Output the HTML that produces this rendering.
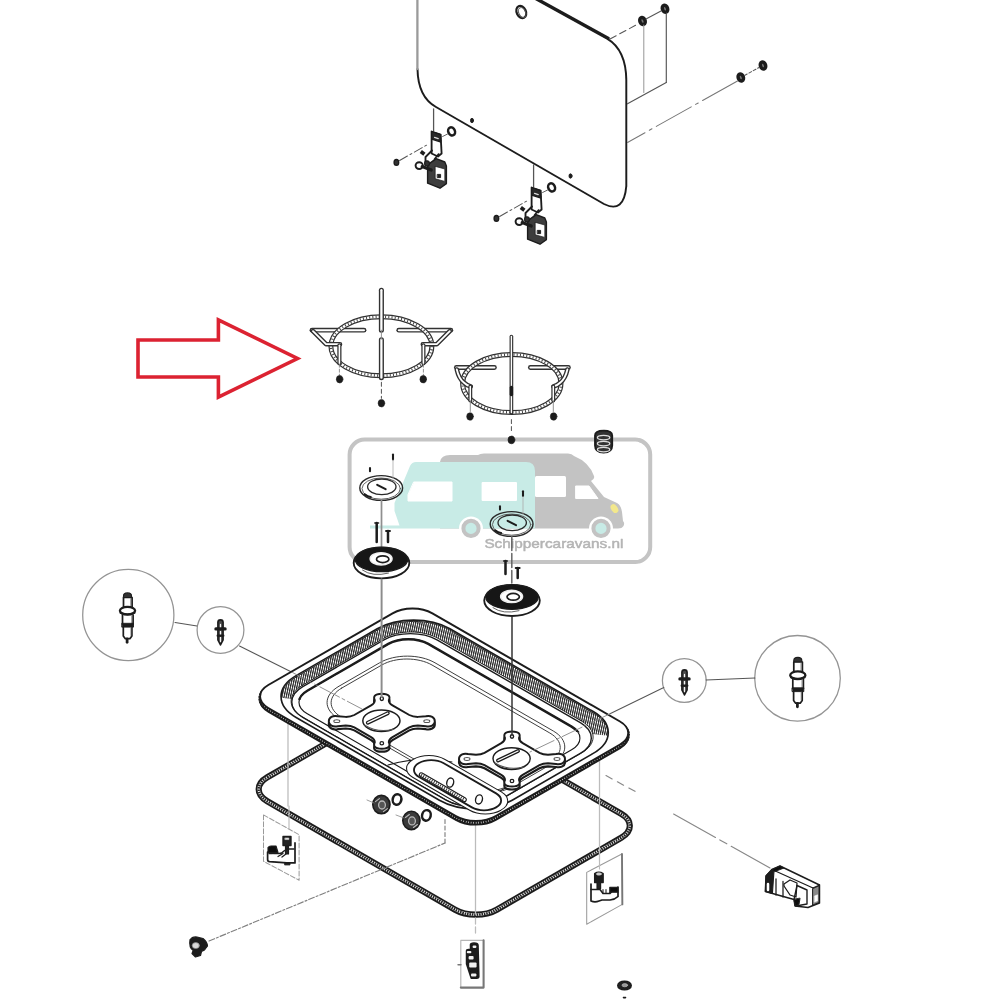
<!DOCTYPE html>
<html><head><meta charset="utf-8"><title>Exploded view</title>
<style>
html,body{margin:0;padding:0;background:#fff;}
body{width:1000px;height:1000px;overflow:hidden;font-family:"Liberation Sans",sans-serif;}
svg{display:block;}
</style></head><body>
<svg width="1000" height="1000" viewBox="0 0 1000 1000" stroke-linecap="round" stroke-linejoin="round">
<defs><filter id="soft" x="-2%" y="-2%" width="104%" height="104%"><feGaussianBlur stdDeviation="0.45"/></filter></defs>
<rect width="1000" height="1000" fill="#fff"/>
<g filter="url(#soft)">
<g id="wm">
<rect x="349.6" y="439.6" width="300.6" height="122.4" rx="15" ry="15" fill="none" stroke="#c4c4c4" stroke-width="4"/>
<path d="M440 528 L440 462 Q441 455 450 455 L478 455 Q480 453.5 484 453.5 L568 453.5 Q572 453.5 574 456 Q589 462 594 476 Q595 479 591 481 L604 497 L617 503 Q621 505 622 512 L623 521 Q625 523 623.5 526 Q622 528.5 618 528.5 L440 528.5 Z" fill="#c3c3c3" stroke="none"/>
<rect x="535" y="476" width="31" height="21" rx="1.5" fill="#fff"/>
<path d="M576 486 L589 486 L598 498.5 L576 498.5 Z" fill="#fff" stroke="#fff" stroke-width="1" />
<ellipse cx="614.4" cy="508.6" rx="3.2" ry="4.8" transform="rotate(-35 614.4 508.6)" fill="#f3e88c"/>
<path d="M416 462 L526 462 Q535 462 535 471 L535 528.4 L370 528.4 L370 525.6 L399.5 525.6 L394.5 511 L394.5 503 L410 466 Q412 462 416 462 Z" fill="#c8ebe6" stroke="none"/>
<path d="M414 482 L452 482 L452 501 L408 501 L408 495 Z" fill="#fff" stroke="#fff" stroke-width="1"/>
<rect x="481.6" y="482" width="35.4" height="19" rx="1" fill="#fff"/>
<circle cx="471" cy="528.4" r="12" fill="#fff"/>
<circle cx="471" cy="528.4" r="7.6" fill="#c8ebe6" stroke="#c3c3c3" stroke-width="4"/>
<circle cx="601" cy="528.4" r="12" fill="#fff"/>
<circle cx="601" cy="528.4" r="7.6" fill="#c8ebe6" stroke="#c3c3c3" stroke-width="4"/>
<text x="484.4" y="548" font-family="Liberation Sans, sans-serif" font-size="13.6" fill="#b4b4b4" stroke="#b4b4b4" stroke-width="0.5" textLength="139" lengthAdjust="spacingAndGlyphs">Schippercaravans.nl</text>
</g>
<path d="M138 340 L218.4 340 L218.4 320 L297.5 358.5 L218.4 397 L218.4 377 L138 377 Z" fill="none" stroke="#dc2430" stroke-width="3.6" stroke-linejoin="miter" stroke-linecap="butt"/>
<path d="M417.5 69 Q418 97 436 107 L604 204 Q624 214 626.3 186 L626.3 80 Q626 50 607.5 38.8 L535 -1" fill="none" stroke="#1c1c1c" stroke-width="1.95" />
<line x1="417.4" y1="-2" x2="417.4" y2="69" stroke="#9a9a9a" stroke-width="2.3" />
<path d="M608.6 38 L536.4 -1.6" fill="none" stroke="#1c1c1c" stroke-width="2.53" />
<ellipse cx="521.3" cy="12" rx="4.6" ry="6.4" fill="none" stroke="#1c1c1c" stroke-width="2.18" transform="rotate(-25 521.3 12)"/>
<ellipse cx="522.2" cy="12.6" rx="3.4" ry="5.2" fill="none" stroke="#555" stroke-width="1.03" transform="rotate(-25 522.2 12.6)"/>
<ellipse cx="472" cy="120.5" rx="1.5" ry="2.2" fill="#1c1c1c" stroke="#1c1c1c" stroke-width="0.92" />
<ellipse cx="570.5" cy="176" rx="1.5" ry="2.2" fill="#1c1c1c" stroke="#1c1c1c" stroke-width="0.92" />
<ellipse cx="642.5" cy="21" rx="2.6" ry="3.6" fill="#777" stroke="#1c1c1c" stroke-width="3.45" transform="rotate(-20 642.5 21)"/>
<ellipse cx="665" cy="8.8" rx="2.6" ry="3.6" fill="#777" stroke="#1c1c1c" stroke-width="3.45" transform="rotate(-20 665 8.8)"/>
<ellipse cx="740.8" cy="77.5" rx="2.6" ry="3.6" fill="#777" stroke="#1c1c1c" stroke-width="3.45" transform="rotate(-20 740.8 77.5)"/>
<ellipse cx="763" cy="65.5" rx="2.6" ry="3.6" fill="#777" stroke="#1c1c1c" stroke-width="3.45" transform="rotate(-20 763 65.5)"/>
<line x1="610" y1="39" x2="638" y2="24" stroke="#555" stroke-width="1.03" stroke-dasharray="7 4"/>
<line x1="646" y1="19" x2="661" y2="11" stroke="#555" stroke-width="1.03" />
<line x1="643.8" y1="25" x2="643.8" y2="92.5" stroke="#999" stroke-width="1.03" />
<line x1="666.3" y1="13" x2="666.3" y2="82.5" stroke="#555" stroke-width="1.15" />
<line x1="666.3" y1="82.5" x2="627.5" y2="103.8" stroke="#555" stroke-width="1.15" />
<line x1="737.5" y1="81" x2="627.5" y2="142.5" stroke="#777" stroke-width="1.03" stroke-dasharray="40 5 3 5"/>
<line x1="744.5" y1="75.5" x2="759" y2="67.5" stroke="#555" stroke-width="1.03" stroke-dasharray="3 2"/>
<ellipse cx="128.3" cy="615" rx="45.6" ry="45.6" fill="none" stroke="#949494" stroke-width="1.26" />
<ellipse cx="220.5" cy="630" rx="23.4" ry="23.4" fill="none" stroke="#949494" stroke-width="1.26" />
<line x1="175" y1="622.5" x2="197" y2="626" stroke="#555" stroke-width="1.03" />
<line x1="239.5" y1="646" x2="292.5" y2="672.5" stroke="#555" stroke-width="1.03" />
<ellipse cx="684.3" cy="680.5" rx="21.9" ry="21.9" fill="none" stroke="#949494" stroke-width="1.26" />
<ellipse cx="797.5" cy="678.3" rx="42.8" ry="42.8" fill="none" stroke="#949494" stroke-width="1.26" />
<line x1="706" y1="680" x2="755" y2="678" stroke="#555" stroke-width="1.03" />
<line x1="663.8" y1="687.5" x2="610" y2="713.8" stroke="#555" stroke-width="1.03" />
<path d="M123.5 596.1 q0 -3.2 4 -3.2 q4 0 4 3.2 v1.6 h-8 Z" fill="#333" stroke="#1c1c1c" stroke-width="1.15" />
<path d="M123.5 597.5 v11.5 M132.1 597.5 v11.5" fill="none" stroke="#1c1c1c" stroke-width="1.72" />
<path d="M130.7 598.5 v10" fill="none" stroke="#777" stroke-width="0.8" />
<ellipse cx="127.5" cy="610.7" rx="7.6" ry="3.8" fill="#fff" stroke="#1c1c1c" stroke-width="2.3" />
<path d="M120.5 613 q7 3 14 0" fill="none" stroke="#1c1c1c" stroke-width="1.61" />
<path d="M122.5 615 v9 M133.1 615 v9" fill="none" stroke="#1c1c1c" stroke-width="1.72" />
<path d="M131.7 615.5 v8" fill="none" stroke="#777" stroke-width="0.8" />
<path d="M122.1 623.3 h11.4 v3.8 h-11.4 Z" fill="#1c1c1c" stroke="#1c1c1c" stroke-width="0.92" />
<path d="M123.3 627.1 v9 l2 2.6 h4.6 l2 -2.6 v-9" fill="none" stroke="#1c1c1c" stroke-width="1.72" />
<path d="M130.9 627.5 v8" fill="none" stroke="#777" stroke-width="0.8" />
<path d="M127.1 638.9 v3.4" fill="none" stroke="#1c1c1c" stroke-width="2.76" />
<path d="M217.9 622.5 q0 -2.6 2.6 -2.6 q2.6 0 2.6 2.6 v17.5 l-2.6 5 l-2.6 -5 Z" fill="#4a4a4a" stroke="#1c1c1c" stroke-width="1.61" />
<path d="M220.5 624.5 v3.4 M220.5 631.5 v3 M220.5 637.5 v4" fill="none" stroke="#f4f4f4" stroke-width="1.26" />
<path d="M215.9 628.9 h9.2" fill="none" stroke="#1c1c1c" stroke-width="3.22" />
<path d="M217.7 635.7 h5.6" fill="none" stroke="#1c1c1c" stroke-width="2.3" />
<path d="M793.8 660.6 q0 -3.2 4 -3.2 q4 0 4 3.2 v1.6 h-8 Z" fill="#333" stroke="#1c1c1c" stroke-width="1.15" />
<path d="M793.8 662 v11.5 M802.4 662 v11.5" fill="none" stroke="#1c1c1c" stroke-width="1.72" />
<path d="M801 663 v10" fill="none" stroke="#777" stroke-width="0.8" />
<ellipse cx="797.8" cy="675.2" rx="7.6" ry="3.8" fill="#fff" stroke="#1c1c1c" stroke-width="2.3" />
<path d="M790.8 677.5 q7 3 14 0" fill="none" stroke="#1c1c1c" stroke-width="1.61" />
<path d="M792.8 679.5 v9 M803.4 679.5 v9" fill="none" stroke="#1c1c1c" stroke-width="1.72" />
<path d="M802 680 v8" fill="none" stroke="#777" stroke-width="0.8" />
<path d="M792.4 687.8 h11.4 v3.8 h-11.4 Z" fill="#1c1c1c" stroke="#1c1c1c" stroke-width="0.92" />
<path d="M793.6 691.6 v9 l2 2.6 h4.6 l2 -2.6 v-9" fill="none" stroke="#1c1c1c" stroke-width="1.72" />
<path d="M801.2 692 v8" fill="none" stroke="#777" stroke-width="0.8" />
<path d="M797.4 703.4 v3.4" fill="none" stroke="#1c1c1c" stroke-width="2.76" />
<path d="M681.9 672.5 q0 -2.6 2.6 -2.6 q2.6 0 2.6 2.6 v17.5 l-2.6 5 l-2.6 -5 Z" fill="#4a4a4a" stroke="#1c1c1c" stroke-width="1.61" />
<path d="M684.5 674.5 v3.4 M684.5 681.5 v3 M684.5 687.5 v4" fill="none" stroke="#f4f4f4" stroke-width="1.26" />
<path d="M679.9 678.9 h9.2" fill="none" stroke="#1c1c1c" stroke-width="3.22" />
<path d="M681.7 685.7 h5.6" fill="none" stroke="#1c1c1c" stroke-width="2.3" />
<line x1="433.6" y1="109" x2="433.6" y2="131" stroke="#555" stroke-width="1.26" />
<path d="M431.6 131.5 l9 3 l1 19 l-3.6 3 l-6.4 -3 Z" fill="#fff" stroke="#1c1c1c" stroke-width="1.84" />
<path d="M431.6 131.5 l9 3 l0.4 7.6 l-9.4 -3 Z" fill="#2a2a2a" stroke="#1c1c1c" stroke-width="1.15" />
<path d="M434.6 137.4 l3.6 1.2" fill="none" stroke="#ddd" stroke-width="1.38" />
<path d="M432 150.5 l-6.5 6.5 v5.5 l5 2.5" fill="none" stroke="#1c1c1c" stroke-width="1.84" />
<path d="M438.6 154 l-4 5 v6" fill="none" stroke="#1c1c1c" stroke-width="1.61" />
<path d="M429.2 163.6 l7 -5 l8.6 3.4 l1.6 4 v17.6 l-6.4 4.6 l-12.4 -5 v-17 Z" fill="#3c3c3c" stroke="#1c1c1c" stroke-width="1.38" />
<path d="M435.4 166.4 l9.4 2.6 v12.4 l-9.4 -2.6 Z" fill="#fff" stroke="#1c1c1c" stroke-width="0.69" />
<path d="M437.6 174.4 h3 v3.2 h-3 Z" fill="#222" stroke="#1c1c1c" stroke-width="0.92" />
<ellipse cx="419.2" cy="165.6" rx="3.6" ry="3.4" fill="#fff" stroke="#1c1c1c" stroke-width="1.95" />
<path d="M422.2 166.6 l9 3.4" fill="none" stroke="#1c1c1c" stroke-width="3.22" />
<ellipse cx="427" cy="163.4" rx="2.4" ry="2.6" fill="#333" stroke="#1c1c1c" stroke-width="1.15" />
<path d="M420.8 151.6 l3.6 2.6" fill="none" stroke="#1c1c1c" stroke-width="3.68" stroke-linecap="butt"/>
<ellipse cx="451.6" cy="131.4" rx="3.3" ry="4.2" fill="none" stroke="#1c1c1c" stroke-width="2.53" transform="rotate(-25 451.6 131.4)"/>
<ellipse cx="396.4" cy="162.4" rx="2.3" ry="2.9" fill="#333" stroke="#1c1c1c" stroke-width="1.38" />
<line x1="399.6" y1="160.5" x2="428.6" y2="144" stroke="#555" stroke-width="1.03" stroke-dasharray="9 3 2 3"/>
<line x1="442.6" y1="136.5" x2="447.6" y2="134" stroke="#555" stroke-width="0.92" />
<line x1="533.6" y1="165" x2="533.6" y2="187" stroke="#555" stroke-width="1.26" />
<path d="M531.6 187.5 l9 3 l1 19 l-3.6 3 l-6.4 -3 Z" fill="#fff" stroke="#1c1c1c" stroke-width="1.84" />
<path d="M531.6 187.5 l9 3 l0.4 7.6 l-9.4 -3 Z" fill="#2a2a2a" stroke="#1c1c1c" stroke-width="1.15" />
<path d="M534.6 193.4 l3.6 1.2" fill="none" stroke="#ddd" stroke-width="1.38" />
<path d="M532 206.5 l-6.5 6.5 v5.5 l5 2.5" fill="none" stroke="#1c1c1c" stroke-width="1.84" />
<path d="M538.6 210 l-4 5 v6" fill="none" stroke="#1c1c1c" stroke-width="1.61" />
<path d="M529.2 219.6 l7 -5 l8.6 3.4 l1.6 4 v17.6 l-6.4 4.6 l-12.4 -5 v-17 Z" fill="#3c3c3c" stroke="#1c1c1c" stroke-width="1.38" />
<path d="M535.4 222.4 l9.4 2.6 v12.4 l-9.4 -2.6 Z" fill="#fff" stroke="#1c1c1c" stroke-width="0.69" />
<path d="M537.6 230.4 h3 v3.2 h-3 Z" fill="#222" stroke="#1c1c1c" stroke-width="0.92" />
<ellipse cx="519.2" cy="221.6" rx="3.6" ry="3.4" fill="#fff" stroke="#1c1c1c" stroke-width="1.95" />
<path d="M522.2 222.6 l9 3.4" fill="none" stroke="#1c1c1c" stroke-width="3.22" />
<ellipse cx="527" cy="219.4" rx="2.4" ry="2.6" fill="#333" stroke="#1c1c1c" stroke-width="1.15" />
<path d="M520.8 207.6 l3.6 2.6" fill="none" stroke="#1c1c1c" stroke-width="3.68" stroke-linecap="butt"/>
<ellipse cx="551.6" cy="187.4" rx="3.3" ry="4.2" fill="none" stroke="#1c1c1c" stroke-width="2.53" transform="rotate(-25 551.6 187.4)"/>
<ellipse cx="496.4" cy="218.4" rx="2.3" ry="2.9" fill="#333" stroke="#1c1c1c" stroke-width="1.38" />
<line x1="499.6" y1="216.5" x2="528.6" y2="200" stroke="#555" stroke-width="1.03" stroke-dasharray="9 3 2 3"/>
<line x1="542.6" y1="192.5" x2="547.6" y2="190" stroke="#555" stroke-width="0.92" />
<path d="M364 330.2 h-52" fill="none" stroke="#303030" stroke-width="4.83" />
<path d="M364 330.2 h-52" fill="none" stroke="#fff" stroke-width="2.07" />
<path d="M398.8 330.2 h52" fill="none" stroke="#303030" stroke-width="4.83" />
<path d="M398.8 330.2 h52" fill="none" stroke="#fff" stroke-width="2.07" />
<ellipse cx="381.4" cy="346.2" rx="50.5" ry="29.5" fill="none" stroke="#303030" stroke-width="4.94" />
<ellipse cx="381.4" cy="346.2" rx="50.5" ry="29.5" fill="none" stroke="#fff" stroke-width="2.53" />
<ellipse cx="381.4" cy="346.2" rx="50.5" ry="29.5" fill="none" stroke="#444" stroke-width="2.53" stroke-dasharray="1 2.2" stroke-linecap="butt"/>
<path d="M313 331.2 l13 13 h14" fill="none" stroke="#303030" stroke-width="4.6" />
<path d="M313 331.2 l13 13 h14" fill="none" stroke="#fff" stroke-width="1.84" />
<path d="M449.8 331.2 l-13 13 h-14" fill="none" stroke="#303030" stroke-width="4.6" />
<path d="M449.8 331.2 l-13 13 h-14" fill="none" stroke="#fff" stroke-width="1.84" />
<path d="M339.4 345.2 v18" fill="none" stroke="#303030" stroke-width="4.14" />
<path d="M339.4 345.2 v18" fill="none" stroke="#fff" stroke-width="1.61" />
<path d="M423.4 345.2 v18" fill="none" stroke="#303030" stroke-width="4.14" />
<path d="M423.4 345.2 v18" fill="none" stroke="#fff" stroke-width="1.61" />
<path d="M381.4 290.2 v40" fill="none" stroke="#303030" stroke-width="5.06" />
<path d="M381.4 290.2 v40" fill="none" stroke="#fff" stroke-width="2.3" />
<path d="M381.4 339.7 v38" fill="none" stroke="#303030" stroke-width="5.06" />
<path d="M381.4 339.7 v38" fill="none" stroke="#fff" stroke-width="2.3" />
<line x1="381.4" y1="330.2" x2="381.4" y2="339.2" stroke="#888" stroke-width="0.92" />
<line x1="339.4" y1="364.2" x2="339.4" y2="375.2" stroke="#888" stroke-width="0.92" stroke-dasharray="3 2"/>
<line x1="423.4" y1="364.2" x2="423.4" y2="375.2" stroke="#888" stroke-width="0.92" stroke-dasharray="3 2"/>
<line x1="381.4" y1="382.2" x2="381.4" y2="398.2" stroke="#555" stroke-width="1.03" stroke-dasharray="4 3"/>
<ellipse cx="339.6" cy="379.2" rx="3.3" ry="3.7" fill="#1c1c1c" stroke="#1c1c1c" stroke-width="0.57" />
<ellipse cx="423.2" cy="379.2" rx="3.3" ry="3.7" fill="#1c1c1c" stroke="#1c1c1c" stroke-width="0.57" />
<ellipse cx="381.4" cy="403.2" rx="3.3" ry="3.7" fill="#1c1c1c" stroke="#1c1c1c" stroke-width="0.57" />
<path d="M494.4 367.5 h-38" fill="none" stroke="#303030" stroke-width="4.83" />
<path d="M494.4 367.5 h-38" fill="none" stroke="#fff" stroke-width="2.07" />
<path d="M530.4 367.5 h38" fill="none" stroke="#303030" stroke-width="4.83" />
<path d="M530.4 367.5 h38" fill="none" stroke="#fff" stroke-width="2.07" />
<ellipse cx="511.8" cy="383.5" rx="49.2" ry="29" fill="none" stroke="#303030" stroke-width="4.94" />
<ellipse cx="511.8" cy="383.5" rx="49.2" ry="29" fill="none" stroke="#fff" stroke-width="2.53" />
<ellipse cx="511.8" cy="383.5" rx="49.2" ry="29" fill="none" stroke="#444" stroke-width="2.53" stroke-dasharray="1 2.2" stroke-linecap="butt"/>
<path d="M456.8 369.5 q2 9 7 13 q3 3 7 4" fill="none" stroke="#303030" stroke-width="4.6" />
<path d="M456.8 369.5 q2 9 7 13 q3 3 7 4" fill="none" stroke="#fff" stroke-width="1.84" />
<path d="M567.4 369.5 q-2 9 -7 13 q-3 3 -7 4" fill="none" stroke="#303030" stroke-width="4.6" />
<path d="M567.4 369.5 q-2 9 -7 13 q-3 3 -7 4" fill="none" stroke="#fff" stroke-width="1.84" />
<path d="M470.3 386.5 v14" fill="none" stroke="#303030" stroke-width="3.91" />
<path d="M470.3 386.5 v14" fill="none" stroke="#fff" stroke-width="1.49" />
<path d="M553.3 386.5 v14" fill="none" stroke="#303030" stroke-width="3.91" />
<path d="M553.3 386.5 v14" fill="none" stroke="#fff" stroke-width="1.49" />
<path d="M511.4 336.5 v76" fill="none" stroke="#303030" stroke-width="3.68" />
<path d="M511.4 336.5 v76" fill="none" stroke="#fff" stroke-width="1.38" />
<path d="M511.4 387.5 v7" fill="none" stroke="#1c1c1c" stroke-width="3.45" />
<line x1="470.3" y1="400.5" x2="470.3" y2="411.5" stroke="#888" stroke-width="0.92" />
<line x1="553.3" y1="400.5" x2="553.3" y2="411.5" stroke="#888" stroke-width="0.92" />
<line x1="511.4" y1="419.5" x2="511.4" y2="433.5" stroke="#555" stroke-width="1.03" stroke-dasharray="4 3"/>
<ellipse cx="470" cy="416.5" rx="3.3" ry="3.7" fill="#1c1c1c" stroke="#1c1c1c" stroke-width="0.57" />
<ellipse cx="553.6" cy="416.5" rx="3.3" ry="3.7" fill="#1c1c1c" stroke="#1c1c1c" stroke-width="0.57" />
<ellipse cx="511.4" cy="439.9" rx="3.4" ry="3.8" fill="#1c1c1c" stroke="#1c1c1c" stroke-width="0.69" />
<path d="M595 435.6 q0 -5 8.6 -5 q8.6 0 8.6 5 v10 q0 7 -8.6 7 q-8.6 0 -8.6 -7 Z" fill="#333" stroke="#1c1c1c" stroke-width="1.84" />
<ellipse cx="603.6" cy="437.6" rx="6.2" ry="2.2" fill="#333" stroke="#ddd" stroke-width="1.26" />
<ellipse cx="603.6" cy="443.6" rx="6.2" ry="2.2" fill="#333" stroke="#ddd" stroke-width="1.26" />
<ellipse cx="603.6" cy="449.6" rx="6.2" ry="2.2" fill="#333" stroke="#ddd" stroke-width="1.26" />
<ellipse cx="381.2" cy="488" rx="21.4" ry="12.4" fill="none" stroke="#2a2a2a" stroke-width="1.44" />
<ellipse cx="381.2" cy="488.6" rx="19.2" ry="10.6" fill="none" stroke="#555" stroke-width="0.92" />
<ellipse cx="381.8" cy="486.8" rx="14.2" ry="7.8" fill="none" stroke="#2a2a2a" stroke-width="1.32" />
<line x1="377.2" y1="484.8" x2="385.6" y2="489.2" stroke="#1c1c1c" stroke-width="2.07" />
<path d="M364.7 494.4 q3 2.4 6 2.6" fill="none" stroke="#1c1c1c" stroke-width="2.07" />
<line x1="370" y1="468" x2="370" y2="471.2" stroke="#1c1c1c" stroke-width="2.07" />
<line x1="393" y1="454.6" x2="393" y2="459.4" stroke="#1c1c1c" stroke-width="2.07" />
<line x1="393" y1="460" x2="393" y2="479" stroke="#aaa" stroke-width="0.8" />
<ellipse cx="511.6" cy="524" rx="21.4" ry="12.4" fill="none" stroke="#2a2a2a" stroke-width="1.44" />
<ellipse cx="511.6" cy="524.6" rx="19.2" ry="10.6" fill="none" stroke="#555" stroke-width="0.92" />
<ellipse cx="512.2" cy="522.8" rx="14.2" ry="7.8" fill="none" stroke="#2a2a2a" stroke-width="1.32" />
<line x1="507.6" y1="520.8" x2="516" y2="525.2" stroke="#1c1c1c" stroke-width="2.07" />
<path d="M495.1 530.4 q3 2.4 6 2.6" fill="none" stroke="#1c1c1c" stroke-width="2.07" />
<line x1="500" y1="506.4" x2="500" y2="509.6" stroke="#1c1c1c" stroke-width="2.07" />
<line x1="523" y1="491.2" x2="523" y2="496" stroke="#1c1c1c" stroke-width="2.07" />
<line x1="523" y1="496.6" x2="523" y2="515" stroke="#aaa" stroke-width="0.8" />
<line x1="381.5" y1="500.5" x2="381.5" y2="546" stroke="#8f8f8f" stroke-width="1.72" />
<line x1="511.8" y1="536.5" x2="511.8" y2="583" stroke="#666" stroke-width="1.49" stroke-dasharray="14 3"/>
<line x1="376.7" y1="523" x2="376.7" y2="542" stroke="#1c1c1c" stroke-width="2.53" />
<line x1="374.9" y1="523" x2="378.5" y2="523" stroke="#1c1c1c" stroke-width="1.61" />
<line x1="388" y1="531" x2="388" y2="542" stroke="#1c1c1c" stroke-width="2.53" />
<line x1="386" y1="531" x2="390" y2="531" stroke="#1c1c1c" stroke-width="1.84" />
<line x1="505.5" y1="561" x2="505.5" y2="574" stroke="#1c1c1c" stroke-width="2.53" />
<line x1="503.7" y1="561" x2="507.3" y2="561" stroke="#1c1c1c" stroke-width="1.61" />
<line x1="517.7" y1="568" x2="517.7" y2="578" stroke="#1c1c1c" stroke-width="2.53" />
<line x1="515.7" y1="568" x2="519.7" y2="568" stroke="#1c1c1c" stroke-width="1.84" />
<ellipse cx="381.5" cy="563" rx="27.8" ry="15.4" fill="#fff" stroke="#1c1c1c" stroke-width="1.84" />
<ellipse cx="381.5" cy="559.4" rx="26.2" ry="12.2" fill="#161616" stroke="#1c1c1c" stroke-width="1.38" />
<ellipse cx="381.1" cy="558.8" rx="11" ry="6.2" fill="#fff" stroke="#eee" stroke-width="1.38" />
<ellipse cx="382.7" cy="559.2" rx="6.2" ry="3.4" fill="#fff" stroke="#1c1c1c" stroke-width="1.72" />
<path d="M362.5 570.1 q10 7 26 3" fill="none" stroke="#555" stroke-width="0.92" />
<ellipse cx="512" cy="600.6" rx="27.8" ry="15.4" fill="#fff" stroke="#1c1c1c" stroke-width="1.84" />
<ellipse cx="512" cy="597" rx="26.2" ry="12.2" fill="#161616" stroke="#1c1c1c" stroke-width="1.38" />
<ellipse cx="511.6" cy="596.4" rx="11" ry="6.2" fill="#fff" stroke="#eee" stroke-width="1.38" />
<ellipse cx="513.2" cy="596.8" rx="6.2" ry="3.4" fill="#fff" stroke="#1c1c1c" stroke-width="1.72" />
<path d="M493 607.7 q10 7 26 3" fill="none" stroke="#555" stroke-width="0.92" />
<path d="M267.3 777.3 L391.8 705.4 C403.3 698.8 421.9 698.8 433.4 705.4 L621.2 813.8 C632.7 820.4 632.7 831.2 621.2 837.8 L496.7 909.7 C485.2 916.3 466.6 916.3 455.1 909.7 L267.3 801.3 C255.8 794.7 255.8 783.9 267.3 777.3 Z" fill="none" stroke="#1c1c1c" stroke-width="6.21" />
<path d="M267.3 777.3 L391.8 705.4 C403.3 698.8 421.9 698.8 433.4 705.4 L621.2 813.8 C632.7 820.4 632.7 831.2 621.2 837.8 L496.7 909.7 C485.2 916.3 466.6 916.3 455.1 909.7 L267.3 801.3 C255.8 794.7 255.8 783.9 267.3 777.3 Z" fill="none" stroke="#fff" stroke-width="2.53" />
<path d="M267.3 777.3 L391.8 705.4 C403.3 698.8 421.9 698.8 433.4 705.4 L621.2 813.8 C632.7 820.4 632.7 831.2 621.2 837.8 L496.7 909.7 C485.2 916.3 466.6 916.3 455.1 909.7 L267.3 801.3 C255.8 794.7 255.8 783.9 267.3 777.3 Z" fill="none" stroke="#222" stroke-width="2.53" stroke-dasharray="1.6 0.8" stroke-linecap="butt"/>
<line x1="288" y1="722" x2="288" y2="806" stroke="#bcbcbc" stroke-width="1.26" />
<line x1="599.5" y1="752" x2="599.5" y2="861" stroke="#bcbcbc" stroke-width="1.26" />
<line x1="475.5" y1="820" x2="475.5" y2="914" stroke="#bcbcbc" stroke-width="1.26" />
<line x1="475.5" y1="918" x2="475.5" y2="936" stroke="#bcbcbc" stroke-width="1.26" stroke-dasharray="6 3"/>
<path d="M268.3 688.6 L392.6 616.9 C403.6 610.5 421.4 610.5 432.4 616.9 L620 725.1 C631 731.5 631 741.7 620 748.1 L495.7 819.8 C484.7 826.2 466.9 826.2 455.9 819.8 L268.3 711.6 C257.3 705.2 257.3 695 268.3 688.6 Z" fill="#fff" stroke="#1c1c1c" stroke-width="1.95" />
<path d="M268.3 686.9 L392.6 615.2 C403.6 608.8 421.4 608.8 432.4 615.2 L620 723.4 C631 729.8 631 740 620 746.4 L495.7 818.1 C484.7 824.5 466.9 824.5 455.9 818.1 L268.3 709.9 C257.3 703.5 257.3 693.3 268.3 686.9 Z" fill="none" stroke="#1c1c1c" stroke-width="3.45" stroke-dasharray="1.9 0.6" stroke-linecap="butt"/>
<path d="M268.3 685 L392.6 613.3 C403.6 606.9 421.4 606.9 432.4 613.3 L620 721.5 C631 727.9 631 738.1 620 744.5 L495.7 816.2 C484.7 822.6 466.9 822.6 455.9 816.2 L268.3 708 C257.3 701.6 257.3 691.4 268.3 685 Z" fill="#fff" stroke="#1c1c1c" stroke-width="1.95" />
<defs><pattern id="hatch" width="2.1" height="6" patternUnits="userSpaceOnUse" patternTransform="rotate(12)"><rect x="0" y="0" width="1.25" height="6" fill="#262626"/></pattern></defs>
<clipPath id="hobB"><path d="M296.1 675.6 L377.2 628.8 C397.3 617.2 429.8 617.2 449.9 628.8 L593.2 711.5 C613.3 723.1 613.3 741.8 593.2 753.4 L512.2 800.2 C492.1 811.8 459.5 811.8 439.4 800.2 L296.1 717.5 C276 705.9 276 687.2 296.1 675.6 Z"/></clipPath>
<clipPath id="farside"><path d="M230 560 L700 560 L700 747 L606 735.5 L279 697.5 L230 692 Z"/></clipPath>
<g clip-path="url(#hobB)">
<g clip-path="url(#farside)"><path d="M296.1 676.9 L377.2 630.1 C397.3 618.5 429.8 618.5 449.9 630.1 L593.2 712.8 C613.3 724.4 613.3 743.1 593.2 754.7 L512.2 801.5 C492.1 813.1 459.5 813.1 439.4 801.5 L296.1 718.8 C276 707.2 276 688.5 296.1 676.9 Z M302.4 685.3 L383.5 638.5 C398.6 629.8 423.2 629.8 438.4 638.5 L581.7 721.2 C596.9 730 596.9 744.1 581.7 752.9 L500.7 799.7 C485.5 808.4 460.9 808.4 445.7 799.7 L302.4 717 C287.3 708.2 287.3 694.1 302.4 685.3 Z" fill="url(#hatch)" fill-rule="evenodd" stroke="none"/></g>
<path d="M296.1 676.9 L377.2 630.1 C397.3 618.5 429.8 618.5 449.9 630.1 L593.2 712.8 C613.3 724.4 613.3 743.1 593.2 754.7 L512.2 801.5 C492.1 813.1 459.5 813.1 439.4 801.5 L296.1 718.8 C276 707.2 276 688.5 296.1 676.9 Z" fill="none" stroke="#1c1c1c" stroke-width="0.92" />
<path d="M302.4 685.3 L383.5 638.5 C398.6 629.8 423.2 629.8 438.4 638.5 L581.7 721.2 C596.9 730 596.9 744.1 581.7 752.9 L500.7 799.7 C485.5 808.4 460.9 808.4 445.7 799.7 L302.4 717 C287.3 708.2 287.3 694.1 302.4 685.3 Z" fill="none" stroke="#1c1c1c" stroke-width="0.92" />
<path d="M302.8 686.7 L383.9 639.9 C398.5 631.5 422.3 631.5 437 639.9 L580.3 722.6 C595 731.1 595 744.8 580.3 753.3 L499.3 800.1 C484.6 808.5 460.8 808.5 446.1 800.1 L302.8 717.4 C288.1 708.9 288.1 695.2 302.8 686.7 Z" fill="none" stroke="#1c1c1c" stroke-width="1.38" />
<path d="M307.3 690.7 L388.3 643.9 C399.4 637.6 417.3 637.6 428.3 643.9 L571.6 726.6 C582.7 733 582.7 743.3 571.6 749.7 L490.6 796.5 C479.6 802.8 461.6 802.8 450.6 796.5 L307.3 713.8 C296.2 707.4 296.2 697.1 307.3 690.7 Z" fill="none" stroke="#1c1c1c" stroke-width="1.15" />
<g clip-path="url(#farside)">
<path d="M307.3 690.7 L388.3 643.9 C399.4 637.6 417.3 637.6 428.3 643.9 L571.6 726.6 C582.7 733 582.7 743.3 571.6 749.7 L490.6 796.5 C479.6 802.8 461.6 802.8 450.6 796.5 L307.3 713.8 C296.2 707.4 296.2 697.1 307.3 690.7 Z" fill="none" stroke="#1c1c1c" stroke-width="2.42" />
</g>
<path d="M338.5 686.5 L379.6 662.8 C394.9 653.9 419.7 653.9 435 662.8 L553.3 731 C568.6 739.8 568.6 754.2 553.3 763 L512.2 786.7 C496.9 795.5 472.1 795.6 456.7 786.7 L338.5 718.5 C323.2 709.7 323.2 695.3 338.5 686.5 Z" fill="none" stroke="#3a3a3a" stroke-width="0.98" />
<path d="M341.5 688.2 L381.8 665 C395.6 657 418.1 657 432 665 L549.8 733 C563.7 741 563.7 754 549.8 762 L509.6 785.2 C495.7 793.2 473.2 793.2 459.3 785.2 L341.5 717.2 C327.6 709.2 327.6 696.3 341.5 688.2 Z" fill="none" stroke="#3a3a3a" stroke-width="0.98" />
</g>
<path d="M296.1 675.6 L377.2 628.8 C397.3 617.2 429.8 617.2 449.9 628.8 L593.2 711.5 C613.3 723.1 613.3 741.8 593.2 753.4 L512.2 800.2 C492.1 811.8 459.5 811.8 439.4 800.2 L296.1 717.5 C276 705.9 276 687.2 296.1 675.6 Z" fill="none" stroke="#1c1c1c" stroke-width="1.61" />
<path d="M388 765 Q420 756 452 762" fill="none" stroke="#1c1c1c" stroke-width="1.03" />
<path d="M413 759.5 L413.4 759.2 C422 754.2 436 754.2 444.6 759.2 L501.3 791.9 C509.9 796.9 509.9 805 501.3 809.9 L500.9 810.2 C492.3 815.2 478.3 815.2 469.7 810.2 L413 777.5 C404.4 772.5 404.4 764.4 413 759.5 Z" fill="#fff" stroke="#1c1c1c" stroke-width="1.03" />
<path d="M419 763 L419 763 C425.7 759.1 436.6 759.1 443.3 763 L496.1 793.4 C502.8 797.3 502.8 803.6 496.1 807.4 L496.1 807.4 C489.4 811.3 478.6 811.3 471.9 807.4 L419 777 C412.3 773.1 412.3 766.8 419 763 Z" fill="none" stroke="#1c1c1c" stroke-width="1.84" />
<path d="M421.2 774.7 L464.5 799.7" fill="none" stroke="#1c1c1c" stroke-width="4.83" />
<path d="M421.2 774.7 L464.5 799.7" fill="none" stroke="#fff" stroke-width="2.53" />
<path d="M421.2 774.7 L464.5 799.7" fill="none" stroke="#333" stroke-width="2.53" stroke-dasharray="1 1.4" stroke-linecap="butt"/>
<ellipse cx="450.2" cy="782.6" rx="3.4" ry="4.6" fill="none" stroke="#1c1c1c" stroke-width="1.38" transform="rotate(15 450.2 782.6)"/>
<ellipse cx="479" cy="799.4" rx="3.4" ry="4.6" fill="none" stroke="#1c1c1c" stroke-width="1.38" transform="rotate(15 479 799.4)"/>
<g transform="translate(381.8 724.2)">
<path d="M -10.7,-15.9 Q -7,-18 -7,-21 C -8.5,-24 -8,-27.5 0,-27.5 C 8,-27.5 8.5,-24 7,-21 Q 7,-18 10.7,-15.9 L 27.5,-6.2 Q 31,-4.3 36,-4.3 L 44,-5 C 49,-6 53,-4 53,0 C 53,4 49,6 44,5 L 36,4.3 Q 31,4.3 27.5,6.2 L 10.7,15.9 Q 7,18 7,21 C 8.5,24 8,27.5 0,27.5 C -8,27.5 -8.5,24 -7,21 Q -7,18 -10.7,15.9 L -27.5,6.2 Q -31,4.3 -36,4.3 L -44,5 C -49,6 -53,4 -53,0 C -53,-4 -49,-6 -44,-5 L -36,-4.3 Q -31,-4.3 -27.5,-6.2 Z" fill="#fff" stroke="#1c1c1c" stroke-width="2.18" />
</g>
<g transform="translate(381.8 721.2)">
<path d="M -10.7,-15.9 Q -7,-18 -7,-21 C -8.5,-24 -8,-27.5 0,-27.5 C 8,-27.5 8.5,-24 7,-21 Q 7,-18 10.7,-15.9 L 27.5,-6.2 Q 31,-4.3 36,-4.3 L 44,-5 C 49,-6 53,-4 53,0 C 53,4 49,6 44,5 L 36,4.3 Q 31,4.3 27.5,6.2 L 10.7,15.9 Q 7,18 7,21 C 8.5,24 8,27.5 0,27.5 C -8,27.5 -8.5,24 -7,21 Q -7,18 -10.7,15.9 L -27.5,6.2 Q -31,4.3 -36,4.3 L -44,5 C -49,6 -53,4 -53,0 C -53,-4 -49,-6 -44,-5 L -36,-4.3 Q -31,-4.3 -27.5,-6.2 Z" fill="#fff" stroke="#1c1c1c" stroke-width="1.95" />
<ellipse cx="-0.4" cy="-0.4" rx="18.6" ry="10.8" fill="none" stroke="#1c1c1c" stroke-width="1.49" />
<path d="M -17,4 Q -4,12 12,8" fill="none" stroke="#555" stroke-width="1.03" />
<path d="M -14,1.5 L 6,-8" fill="none" stroke="#1c1c1c" stroke-width="3.91" />
<path d="M -14,1.5 L 6,-8" fill="none" stroke="#fff" stroke-width="1.38" />
<ellipse cx="0" cy="-22.5" rx="1.6" ry="1.8" fill="none" stroke="#1c1c1c" stroke-width="1.38" />
<ellipse cx="0" cy="22" rx="1.8" ry="1.6" fill="none" stroke="#1c1c1c" stroke-width="1.26" />
<ellipse cx="-45" cy="0" rx="3" ry="1.4" fill="none" stroke="#555" stroke-width="1.03" />
<ellipse cx="45" cy="0" rx="3" ry="1.4" fill="none" stroke="#555" stroke-width="1.03" />
</g>
<g transform="translate(512 762)">
<path d="M -10.7,-15.9 Q -7,-18 -7,-21 C -8.5,-24 -8,-27.5 0,-27.5 C 8,-27.5 8.5,-24 7,-21 Q 7,-18 10.7,-15.9 L 27.5,-6.2 Q 31,-4.3 36,-4.3 L 44,-5 C 49,-6 53,-4 53,0 C 53,4 49,6 44,5 L 36,4.3 Q 31,4.3 27.5,6.2 L 10.7,15.9 Q 7,18 7,21 C 8.5,24 8,27.5 0,27.5 C -8,27.5 -8.5,24 -7,21 Q -7,18 -10.7,15.9 L -27.5,6.2 Q -31,4.3 -36,4.3 L -44,5 C -49,6 -53,4 -53,0 C -53,-4 -49,-6 -44,-5 L -36,-4.3 Q -31,-4.3 -27.5,-6.2 Z" fill="#fff" stroke="#1c1c1c" stroke-width="2.18" />
</g>
<g transform="translate(512 759)">
<path d="M -10.7,-15.9 Q -7,-18 -7,-21 C -8.5,-24 -8,-27.5 0,-27.5 C 8,-27.5 8.5,-24 7,-21 Q 7,-18 10.7,-15.9 L 27.5,-6.2 Q 31,-4.3 36,-4.3 L 44,-5 C 49,-6 53,-4 53,0 C 53,4 49,6 44,5 L 36,4.3 Q 31,4.3 27.5,6.2 L 10.7,15.9 Q 7,18 7,21 C 8.5,24 8,27.5 0,27.5 C -8,27.5 -8.5,24 -7,21 Q -7,18 -10.7,15.9 L -27.5,6.2 Q -31,4.3 -36,4.3 L -44,5 C -49,6 -53,4 -53,0 C -53,-4 -49,-6 -44,-5 L -36,-4.3 Q -31,-4.3 -27.5,-6.2 Z" fill="#fff" stroke="#1c1c1c" stroke-width="1.95" />
<ellipse cx="-0.4" cy="-0.4" rx="18.6" ry="10.8" fill="none" stroke="#1c1c1c" stroke-width="1.49" />
<path d="M -17,4 Q -4,12 12,8" fill="none" stroke="#555" stroke-width="1.03" />
<path d="M -14,1.5 L 6,-8" fill="none" stroke="#1c1c1c" stroke-width="3.91" />
<path d="M -14,1.5 L 6,-8" fill="none" stroke="#fff" stroke-width="1.38" />
<ellipse cx="0" cy="-22.5" rx="1.6" ry="1.8" fill="none" stroke="#1c1c1c" stroke-width="1.38" />
<ellipse cx="0" cy="22" rx="1.8" ry="1.6" fill="none" stroke="#1c1c1c" stroke-width="1.26" />
<ellipse cx="-45" cy="0" rx="3" ry="1.4" fill="none" stroke="#555" stroke-width="1.03" />
<ellipse cx="45" cy="0" rx="3" ry="1.4" fill="none" stroke="#555" stroke-width="1.03" />
</g>
<line x1="292.5" y1="672.5" x2="362" y2="709" stroke="#888" stroke-width="0.92" stroke-dasharray="22 3 3 3"/>
<line x1="610" y1="713.8" x2="530" y2="752" stroke="#888" stroke-width="0.92" stroke-dasharray="22 3 3 3"/>
<line x1="381.6" y1="579.5" x2="381.6" y2="697" stroke="#8c8c8c" stroke-width="1.95" />
<line x1="512" y1="617" x2="512" y2="735" stroke="#333" stroke-width="1.49" />
<ellipse cx="381.4" cy="804.6" rx="8.6" ry="9.2" fill="#3a3a3a" stroke="#1c1c1c" stroke-width="1.61" />
<ellipse cx="382" cy="805" rx="3.4" ry="4" fill="#555" stroke="#bbb" stroke-width="1.26" />
<path d="M375.4 801.6 l4 -3 M387.4 808.6 l-4 3" fill="none" stroke="#bbb" stroke-width="1.15" />
<ellipse cx="411.4" cy="820.5" rx="8.6" ry="9.2" fill="#3a3a3a" stroke="#1c1c1c" stroke-width="1.61" />
<ellipse cx="412" cy="820.9" rx="3.4" ry="4" fill="#555" stroke="#bbb" stroke-width="1.26" />
<path d="M405.4 817.5 l4 -3 M417.4 824.5 l-4 3" fill="none" stroke="#bbb" stroke-width="1.15" />
<ellipse cx="397" cy="799.5" rx="4.3" ry="5.3" fill="none" stroke="#1c1c1c" stroke-width="2.53" transform="rotate(15 397 799.5)"/>
<ellipse cx="426.4" cy="815.4" rx="4.3" ry="5.3" fill="none" stroke="#1c1c1c" stroke-width="2.53" transform="rotate(15 426.4 815.4)"/>
<line x1="367" y1="800" x2="374" y2="803" stroke="#888" stroke-width="0.8" />
<line x1="396" y1="815" x2="404" y2="818" stroke="#888" stroke-width="0.8" />
<path d="M263.5 814.9 L299.1 834.7 L299.1 880.2 L263.5 861.3 Z" fill="none" stroke="#9a9a9a" stroke-width="1.03" stroke-dasharray="5 2"/>
<line x1="289" y1="806" x2="289" y2="829" stroke="#bcbcbc" stroke-width="1.15" />
<path d="M283 836.5 h8 v9 h-8 Z" fill="#222" stroke="#1c1c1c" stroke-width="1.38" />
<path d="M285.2 838 h3.6 v1.6 h-3.6 Z" fill="#ddd" stroke="#ddd" stroke-width="0.57" />
<path d="M285.5 846 h3 v8 h-3 Z" fill="#222" stroke="#1c1c1c" stroke-width="1.15" />
<path d="M268 847.5 q1 -1.5 3 -1.5 h5 l2 6.5 h-10 Z" fill="#111" stroke="#1c1c1c" stroke-width="1.15" />
<path d="M267.6 852 v7.5 q0 2 2 2.2 l17 1.2 h8.4 v-20" fill="none" stroke="#1c1c1c" stroke-width="1.72" />
<path d="M269 853.5 h10 q3 0 5 -2.5 l3 -2 h7" fill="none" stroke="#1c1c1c" stroke-width="1.38" />
<path d="M278 856.5 l5 -3 M282 857 l4 -3" fill="none" stroke="#1c1c1c" stroke-width="1.26" />
<ellipse cx="273" cy="857.2" rx="3.2" ry="2" fill="#fff" stroke="#fff" stroke-width="0.92" />
<path d="M285 862.5 h5 v2.4 h-5 Z" fill="#1c1c1c" stroke="#1c1c1c" stroke-width="0.92" />
<path d="M586.7 872.4 L621.8 854 L622.3 904.4 L586.7 924.2 Z" fill="none" stroke="#9a9a9a" stroke-width="1.03" />
<line x1="622" y1="854" x2="622.4" y2="904.4" stroke="#777" stroke-width="1.84" />
<line x1="599.5" y1="861" x2="599.5" y2="869" stroke="#bcbcbc" stroke-width="1.15" />
<path d="M594.6 873.5 q4.2 -2.6 8.6 0 v9 h-8.6 Z" fill="#1a1a1a" stroke="#1c1c1c" stroke-width="1.26" />
<ellipse cx="598.9" cy="874" rx="2.6" ry="1.2" fill="#ccc" stroke="#ccc" stroke-width="0.57" />
<path d="M597 882.5 h3.6 v6 h-3.6 Z" fill="#222" stroke="#1c1c1c" stroke-width="1.15" />
<path d="M591 884 v17 q4 1.6 8 0 l3 -1 h8 q5 -0.5 8 -3.5 v-9.5" fill="none" stroke="#1c1c1c" stroke-width="1.72" />
<path d="M591 889.5 h9 l3 4 h7 l3 -4" fill="none" stroke="#1c1c1c" stroke-width="1.49" />
<path d="M609.8 887.2 h8 v5 h-6 l-2 1 Z" fill="#111" stroke="#1c1c1c" stroke-width="1.15" />
<path d="M603 889.5 v4 M606 889.5 v4" fill="none" stroke="#1c1c1c" stroke-width="1.03" />
<path d="M460.8 987.6 V940.4 H483.6" fill="none" stroke="#b5b5b5" stroke-width="1.15" />
<path d="M483.6 940.4 V987.6 H460.8" fill="none" stroke="#777" stroke-width="2.07" />
<line x1="458" y1="964.8" x2="461" y2="964.8" stroke="#777" stroke-width="1.38" />
<path d="M470.5 945 q0 -2 3.5 -2 q4 0 4 2.5 l0.8 31 q0 1.6 -2 1.6 h-5.6 l-4.6 -14 v-13 q0 -1.6 2 -1.6 h2 Z" fill="#1a1a1a" stroke="#1c1c1c" stroke-width="1.61" />
<rect x="472.6" y="945.6" width="3.8" height="2.4" rx="1" fill="#f2f2f2"/>
<rect x="466.8" y="951" width="4.6" height="2.2" rx="1" fill="#f2f2f2"/>
<rect x="468.6" y="956" width="5" height="3.4" rx="1" fill="#f2f2f2"/>
<rect x="469.2" y="962.6" width="7.4" height="5" rx="1" fill="#f2f2f2"/>
<rect x="471" y="973.6" width="5.4" height="3" rx="1" fill="#f2f2f2"/>
<path d="M766 876 L772 869.5 L780 866 L819.5 885 L819.5 903 L808 907.5 L795 906 L794 899.5 L765.4 891.5 Z" fill="#fff" stroke="#1c1c1c" stroke-width="1.49" />
<path d="M772 869.5 L813 888 L819.5 885 M813 888 V905" fill="none" stroke="#1c1c1c" stroke-width="1.26" />
<path d="M766 876 L772 869.5 L774 870.5 L772.4 893.4 L765.4 891.5 Z" fill="#1d1d1d" stroke="#1c1c1c" stroke-width="1.15" />
<path d="M772 869.5 L780 866 L784 868 L775 871.5 Z" fill="#111" stroke="#1c1c1c" stroke-width="0.92" />
<path d="M776 879 v16 M783 881.5 v15.5" fill="none" stroke="#1c1c1c" stroke-width="1.26" />
<path d="M784 884 l6 -4 l7 3 l-1 14 l-6 -2 l-6 -9 Z" fill="none" stroke="#1c1c1c" stroke-width="1.26" />
<path d="M794 899.5 l3 -14 l10 4.5 v14 l-11 2" fill="none" stroke="#1c1c1c" stroke-width="1.38" />
<path d="M794 899.5 l1 6.5 l4 -1.5 l1 -6 Z" fill="#111" stroke="#1c1c1c" stroke-width="0.92" />
<path d="M813 888.5 l6 -2.6 v16.6 l-6 2.4 Z" fill="#8a8a8a" stroke="#1c1c1c" stroke-width="0.92" />
<path d="M814.6 896 l3 -1.2 v6 l-3 1.2 Z" fill="#fff" stroke="#fff" stroke-width="0.57" />
<path d="M768 884 v6" fill="none" stroke="#fff" stroke-width="2.53" />
<line x1="606" y1="775.6" x2="638" y2="793" stroke="#888" stroke-width="1.15" stroke-dasharray="7 6"/>
<line x1="673.6" y1="814" x2="770" y2="868" stroke="#888" stroke-width="1.15" stroke-dasharray="48 5 8 5"/>
<path d="M190 940 q2 -3.5 7 -3 l6 1.5 q4 3 4.5 7.5 l-3 4 l-3 1.5 l-1 4 l-5 1.5 l-3.5 -3.5 l1.2 -3 q-4.5 -3 -3.2 -11 Z" fill="#1c1c1c" stroke="#1c1c1c" stroke-width="1.15" />
<ellipse cx="195.8" cy="945.6" rx="3.6" ry="3" fill="#d9d9d9" stroke="#888" stroke-width="0.69" />
<line x1="209" y1="941" x2="445" y2="843" stroke="#808080" stroke-width="1.15" stroke-dasharray="6 2 2 2"/>
<line x1="445" y1="843" x2="445" y2="818" stroke="#808080" stroke-width="1.15" stroke-dasharray="4 2.5"/>
<ellipse cx="624.5" cy="985.5" rx="6.8" ry="4.4" fill="#222" stroke="#1c1c1c" stroke-width="1.38" />
<ellipse cx="624.8" cy="985.2" rx="2.8" ry="1.6" fill="#999" stroke="#bbb" stroke-width="0.69" />
<line x1="623.5" y1="997.6" x2="625.5" y2="997.6" stroke="#1c1c1c" stroke-width="1.61" />
</g>
</svg>
</body></html>
